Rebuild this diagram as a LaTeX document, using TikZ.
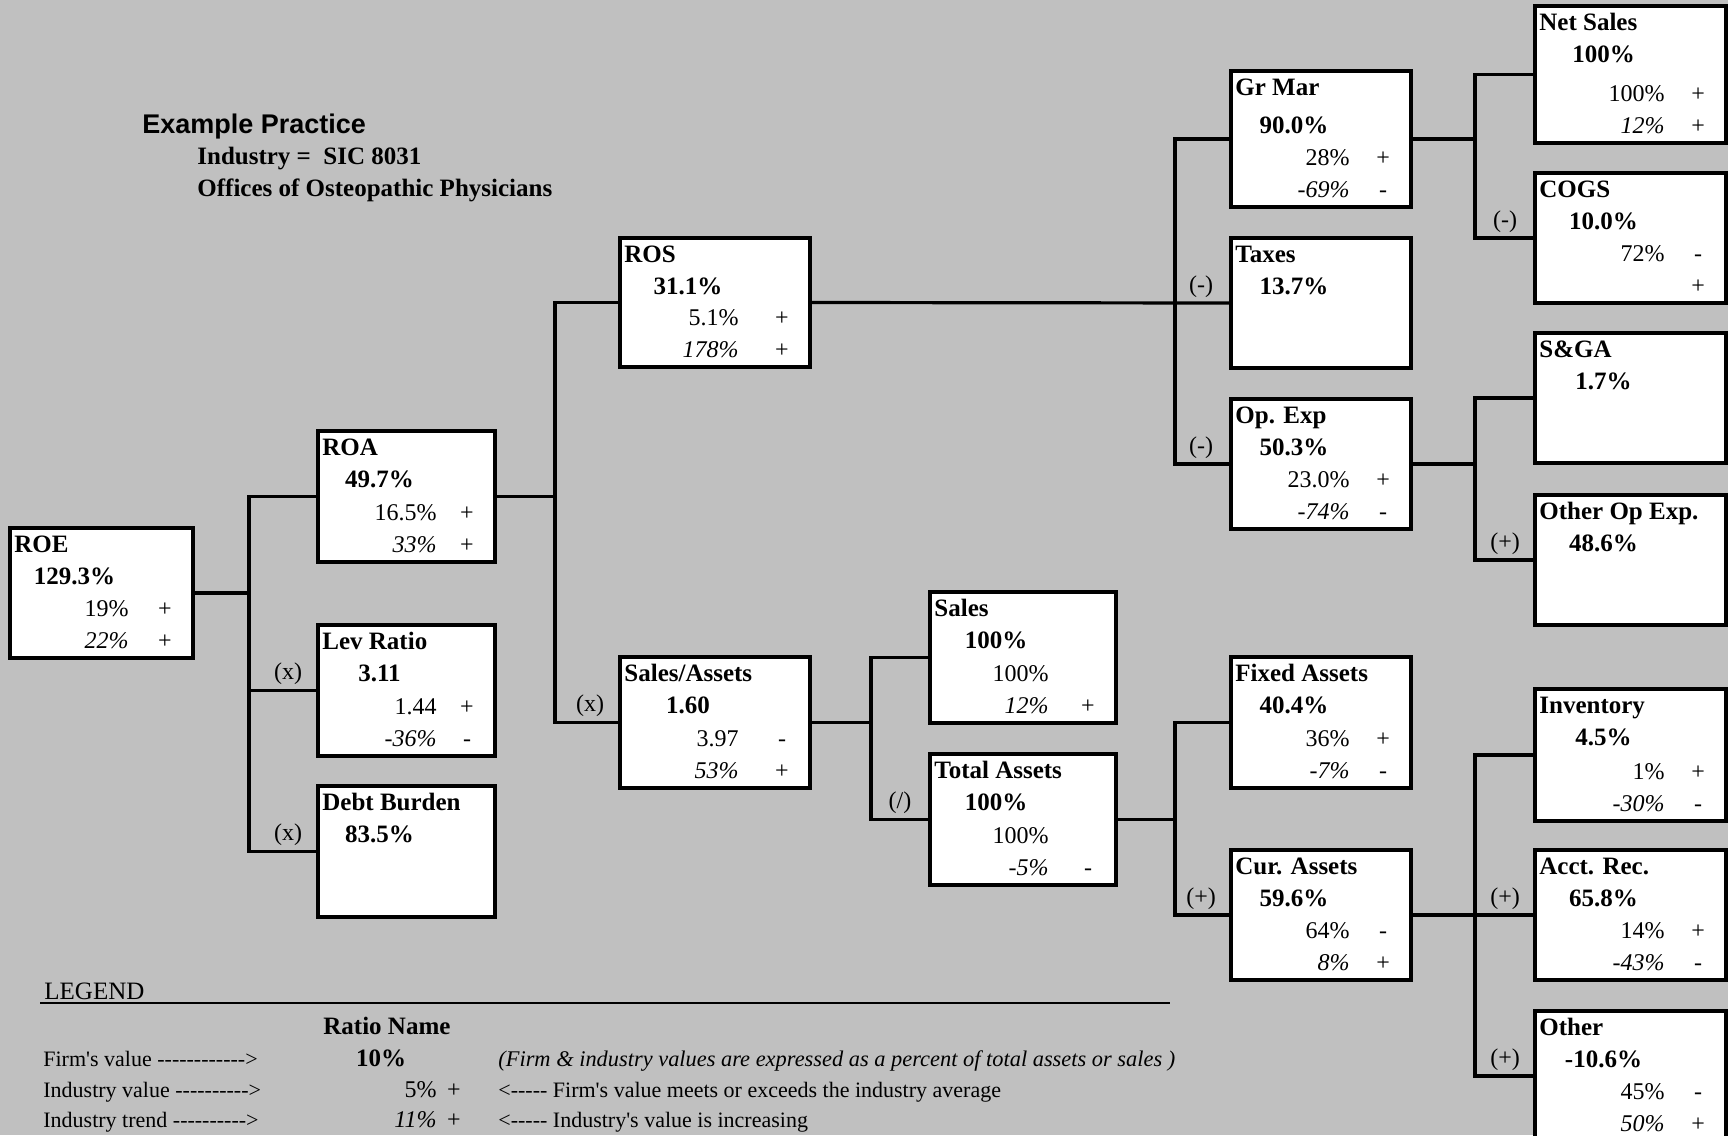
\documentclass[tikz,border=0pt]{standalone}
\usepackage{fontspec}
\setmainfont{Liberation Serif}[Ligatures=TeXOff]
\newfontfamily\headfont{Liberation Sans}[Ligatures=TeXOff]
\usetikzlibrary{calc}
\definecolor{SheetGray}{HTML}{C0C0C0}
\tikzset{
  ratiobox/.style={rectangle, draw=black, fill=white, line width=2.4pt, anchor=north west, inner sep=0pt, outer sep=0pt},
  boxtitle/.style={anchor=base west, inner sep=0pt, font=\fontsize{12.5}{14}\selectfont\bfseries},
  boxvalue/.style={anchor=base, inner sep=0pt, font=\fontsize{12.5}{14}\selectfont\bfseries},
  indval/.style={anchor=base east, inner sep=0pt, font=\fontsize{12}{14}\selectfont},
  trendval/.style={anchor=base east, inner sep=0pt, font=\fontsize{12}{14}\selectfont\itshape},
  signmark/.style={anchor=base, inner sep=0pt, font=\fontsize{12}{14}\selectfont},
  oplabel/.style={anchor=base, inner sep=0pt, font=\fontsize{12}{14}\selectfont},
  link/.style={line width=1.6pt},
  legendtext/.style={anchor=base west, inner sep=0pt, font=\fontsize{11}{13}\selectfont},
  headtext/.style={anchor=base west, inner sep=0pt, font=\fontsize{12.5}{14}\selectfont\bfseries}
}
\newcommand{\indshift}{119}
% box: [value offset] name, left, top, width, height, title, value
\newcommand{\rbox}[8][56]{%
  \node[ratiobox, minimum width={#5*0.5pt}, minimum height={#6*0.5pt}] (#2) at (#3,#4) {};
  \node[boxtitle] (#2-title) at ($(#2.north west)+(4,24)$) {#7};
  \node[boxvalue] (#2-value) at ($(#2.north)+(-27,#1)$) {#8};
}
\newcommand{\indrow}[3]{%
  \node[indval] (#1-ind) at ($(#1.south west)+(\indshift,-42)$) {#2};
  \node[signmark] (#1-indsign) at ($(#1.south east)+(-28,-42)$) {#3};
}
\newcommand{\trendrow}[3]{%
  \node[trendval] (#1-trend) at ($(#1.south west)+(\indshift,-10)$) {#2};
  \node[signmark] (#1-trendsign) at ($(#1.south east)+(-28,-10)$) {#3};
}
\newcommand{\oplab}[2]{%
  \node[oplabel] (#1-op) at ($(#1.west)+(-30,-11)$) {#2};
}

\begin{document}
\begin{tikzpicture}[x=0.5pt, y=-0.5pt]
  \fill[SheetGray] (0,0) rectangle (1728,1135);
  \useasboundingbox (0,0) rectangle (1728,1135);

  % heading
  \node[anchor=base west, inner sep=0pt, font=\headfont\fontsize{13.5}{16}\selectfont\bfseries] (practice) at (142,133) {Example Practice};
  \node[headtext] (industry) at (197,164) {Industry = \ SIC 8031};
  \node[headtext] (sicname) at (197,196) {Offices of Osteopathic Physicians};

  % column 1 and 2
  \rbox{roe}{10}{528}{183}{130}{ROE}{129.3\%}
  \indrow{roe}{19\%}{+}
  \trendrow{roe}{22\%}{+}
  \rbox{roa}{318}{431}{177}{131}{ROA}{49.7\%}
  \indrow{roa}{16.5\%}{+}
  \trendrow{roa}{33\%}{+}
  \rbox{lev}{318}{625}{177}{131}{Lev Ratio}{3.11}
  \indrow{lev}{1.44}{+}
  \trendrow{lev}{-36\%}{-}
  \rbox{debt}{318}{786}{177}{131}{Debt Burden}{83.5\%}

  % column 3 and 4
  \rbox{ros}{620}{238}{190}{129}{ROS}{31.1\%}
  \indrow{ros}{5.1\%}{+}
  \trendrow{ros}{178\%}{+}
  \rbox{salesassets}{620}{657}{190}{131}{Sales/Assets}{1.60}
  \indrow{salesassets}{3.97}{-}
  \trendrow{salesassets}{53\%}{+}
  \rbox{sales}{930}{592}{186}{131}{Sales}{100\%}
  \indrow{sales}{100\%}{}
  \trendrow{sales}{12\%}{+}
  \rbox{totassets}{930}{754}{186}{131}{Total Assets}{100\%}
  \indrow{totassets}{100\%}{}
  \trendrow{totassets}{-5\%}{-}

  % column 5
  \rbox[62]{grmar}{1231}{71}{180}{136}{Gr Mar}{90.0\%}
  \indrow{grmar}{28\%}{+}
  \trendrow{grmar}{-69\%}{-}
  \rbox{taxes}{1231}{238}{180}{130}{Taxes}{13.7\%}
  \rbox{opexp}{1231}{399}{180}{130}{Op. Exp}{50.3\%}
  \indrow{opexp}{23.0\%}{+}
  \trendrow{opexp}{-74\%}{-}
  \rbox{fixed}{1231}{657}{180}{131}{Fixed Assets}{40.4\%}
  \indrow{fixed}{36\%}{+}
  \trendrow{fixed}{-7\%}{-}
  \rbox{curassets}{1231}{850}{180}{130}{Cur. Assets}{59.6\%}
  \indrow{curassets}{64\%}{-}
  \trendrow{curassets}{8\%}{+}

  % column 6
  \renewcommand{\indshift}{130}
  \rbox{netsales}{1535}{6}{191}{137}{Net Sales}{100\%}
  \indrow{netsales}{100\%}{+}
  \trendrow{netsales}{12\%}{+}
  \rbox{cogs}{1535}{173}{191}{130}{COGS}{10.0\%}
  \indrow{cogs}{72\%}{-}
  \trendrow{cogs}{}{+}
  \rbox{sga}{1535}{333}{191}{130}{S\&GA}{1.7\%}
  \rbox{otherop}{1535}{495}{191}{130}{Other Op Exp.}{48.6\%}
  \rbox{inventory}{1535}{689}{191}{132}{Inventory}{4.5\%}
  \indrow{inventory}{1\%}{+}
  \trendrow{inventory}{-30\%}{-}
  \rbox{acctrec}{1535}{850}{191}{130}{Acct. Rec.}{65.8\%}
  \indrow{acctrec}{14\%}{+}
  \trendrow{acctrec}{-43\%}{-}
  \rbox{other}{1535}{1011}{191}{130}{Other}{-10.6\%}
  \indrow{other}{45\%}{-}
  \trendrow{other}{50\%}{+}

  % connectors
  \coordinate (busroe) at (249,0);
  \coordinate (busroa) at (555,0);
  \coordinate (bussa) at (871,0);
  \coordinate (busmid) at (1175,0);
  \coordinate (busright) at (1475,0);
  \draw[link] (roe.east) -- (roe.east -| busroe);
  \draw[link] (roa.west) -| (busroe |- debt.west) -- (debt.west);
  \draw[link] (lev.west) -- (lev.west -| busroe);
  \draw[link] (roa.east) -- (roa.east -| busroa);
  \draw[link] (ros.west) -| (busroa |- salesassets.west) -- (salesassets.west);
  \draw[link] (ros.east) -- (taxes.west);
  \draw[link] (grmar.west) -| (busmid |- opexp.west) -- (opexp.west);
  \draw[link] (salesassets.east) -- (salesassets.east -| bussa);
  \draw[link] (sales.west) -| (bussa |- totassets.west) -- (totassets.west);
  \draw[link] (totassets.east) -- (totassets.east -| busmid);
  \draw[link] (fixed.west) -| (busmid |- curassets.west) -- (curassets.west);
  \draw[link] (grmar.east) -- (grmar.east -| busright);
  \draw[link] (netsales.west) -| (busright |- cogs.west) -- (cogs.west);
  \draw[link] (opexp.east) -- (opexp.east -| busright);
  \draw[link] (sga.west) -| (busright |- otherop.west) -- (otherop.west);
  \draw[link] (curassets.east) -- (acctrec.west);
  \draw[link] (inventory.west) -| (busright |- other.west) -- (other.west);

  % operators
  \oplab{lev}{(x)}
  \oplab{debt}{(x)}
  \oplab{salesassets}{(x)}
  \oplab{totassets}{(/)}
  \oplab{taxes}{(-)}
  \oplab{opexp}{(-)}
  \oplab{curassets}{(+)}
  \oplab{cogs}{(-)}
  \oplab{otherop}{(+)}
  \oplab{acctrec}{(+)}
  \oplab{other}{(+)}

  % legend
  \node[anchor=base west, inner sep=0pt, font=\fontsize{12.5}{14}\selectfont] (legend) at (44,999) {LEGEND};
  \draw[line width=1.2pt] ($(legend.base west)+(-4,4)$) -- ++(1130,0);
  \node[headtext] (rationame) at (323,1034) {Ratio Name};
  \node[legendtext] (firmrow) at (43,1066) {Firm's value ------------>};
  \node[legendtext] (indrow) at (43,1097) {Industry value ---------->};
  \node[legendtext] (trendrow) at (43,1127) {Industry trend ---------->};
  \node[boxvalue] (firmval) at (381,1066) {10\%};
  \node[indval] (indval) at (437,1097) {5\%};
  \node[signmark] (indsign) at (454,1097) {+};
  \node[trendval] (trendval) at (437,1127) {11\%};
  \node[signmark] (trendsign) at (454,1127) {+};
  \node[legendtext, font=\fontsize{11.2}{13}\selectfont\itshape] (firmnote) at (498,1066) {(Firm \& industry values are expressed as a percent of total assets or sales )};
  \node[legendtext] (indnote) at (498,1097) {<----- Firm's value meets or exceeds the industry average};
  \node[legendtext] (trendnote) at (498,1127) {<----- Industry's value is increasing};
\end{tikzpicture}
\end{document}
